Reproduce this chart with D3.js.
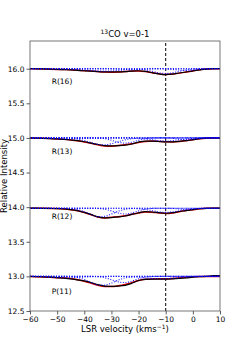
<!DOCTYPE html>
<html>
<head>
<meta charset="utf-8">
<script src="https://cdn.jsdelivr.net/npm/d3@7"></script>
<style>
    body { margin: 0; background: #fff; }
    svg text { font-family: "DejaVu Sans", sans-serif; fill: #000; }
</style>
</head>
<body>
<div id="chart"></div>
<script>
//---------------------------------//
// Data                            //
//---------------------------------//

var velocity = [-60, -57.5, -55, -52.5, -50, -47.5, -45, -42.5, -40, -37.5, -35, -32.5, -30, -27.5,
                -25, -22.5, -20, -17.5, -15, -12.5, -10, -7.5, -5, -2.5, 0, 2.5, 5, 7.5, 10];

var lineNames = ['R(16)', 'R(13)', 'R(12)', 'P(11)'];
var baselines = [16.0, 15.0, 13.985, 13.0];
var labelV    = [-52, -52, -52, -52];
var labelY    = [15.81, 14.81, 13.86, 12.79];

// absorption depth below baseline (observed, black)
var obsR16 = [0,0.002,0.004,0.007,0.01,0.014,0.018,0.024,0.03,0.036,0.041,0.045,0.047,0.046,0.042,0.034,0.03,0.04,0.058,0.075,0.085,0.078,0.062,0.048,0.032,0.016,0.005,0,0];
var obsR13 = [0,0.003,0.006,0.01,0.015,0.022,0.03,0.04,0.055,0.075,0.095,0.11,0.115,0.112,0.105,0.088,0.06,0.045,0.045,0.052,0.058,0.056,0.05,0.04,0.025,0.01,0.003,0,0];
var obsR12 = [0,0,0.002,0.004,0.006,0.01,0.02,0.035,0.06,0.09,0.125,0.14,0.135,0.126,0.113,0.09,0.066,0.05,0.055,0.065,0.073,0.065,0.048,0.035,0.02,0.008,0.002,0,0];
var obsP11 = [0,0.003,0.007,0.012,0.018,0.026,0.036,0.05,0.065,0.088,0.118,0.14,0.145,0.14,0.13,0.1,0.06,0.042,0.04,0.04,0.04,0.036,0.03,0.022,0.012,0.005,0,-0.012,-0.01];

// model fit (red)
var modR16 = [0,0.002,0.004,0.007,0.01,0.013,0.017,0.022,0.028,0.035,0.042,0.048,0.05,0.047,0.04,0.035,0.034,0.042,0.058,0.074,0.083,0.078,0.064,0.048,0.032,0.016,0.005,0.001,0];
var modR13 = [0,0.003,0.006,0.01,0.015,0.021,0.03,0.042,0.058,0.078,0.1,0.116,0.12,0.11,0.1,0.085,0.065,0.05,0.046,0.05,0.056,0.058,0.052,0.04,0.026,0.011,0.003,0,0];
var modR12 = [0,0,0.002,0.004,0.006,0.011,0.022,0.038,0.062,0.094,0.128,0.142,0.132,0.122,0.11,0.088,0.068,0.055,0.058,0.068,0.076,0.068,0.05,0.035,0.022,0.009,0.002,0,0];
var modP11 = [0.002,0.004,0.008,0.013,0.018,0.022,0.03,0.048,0.07,0.098,0.128,0.146,0.146,0.136,0.118,0.09,0.06,0.042,0.036,0.035,0.034,0.03,0.022,0.012,0.006,0.002,0,0,0];

// velocity components (blue dotted)
var compR16 = [
    [0,0,0,0,0,0.002,0.005,0.01,0.017,0.025,0.032,0.035,0.032,0.025,0.017,0.01,0.005,0.002,0,0,0,0,0,0,0,0,0,0,0],
    [0,0,0,0,0,0,0,0,0,0,0,0,0.002,0.007,0.012,0.015,0.012,0.007,0.002,0,0,0,0,0,0,0,0,0,0],
    [0,0,0,0,0,0,0,0,0,0,0,0,0,0,0,0,0.006,0.018,0.038,0.06,0.07,0.06,0.038,0.018,0.006,0,0,0,0],
    [0,0,0,0,0,0,0,0,0,0,0,0,0,0,0,0,0,0,0,0,0.004,0.011,0.02,0.025,0.02,0.011,0.004,0,0]
];
var compR13 = [
    [0,0,0,0,0,0,0.006,0.016,0.038,0.067,0.092,0.1,0.084,0.055,0.028,0.011,0.003,0,0,0,0,0,0,0,0,0,0,0,0],
    [0,0,0,0,0,0,0,0,0,0,0.003,0.011,0.035,0.062,0.075,0.062,0.035,0.011,0.003,0,0,0,0,0,0,0,0,0,0],
    [0,0,0,0,0,0,0,0,0,0,0,0,0,0,0,0,0.006,0.015,0.027,0.039,0.045,0.039,0.027,0.015,0.006,0,0,0,0],
    [0,0,0,0,0,0,0,0,0,0,0,0,0,0,0,0,0,0,0,0,0,0.007,0.017,0.025,0.02,0.009,0.002,0,0],
    [0,0.003,0.006,0.01,0.013,0.015,0.014,0.011,0.007,0.004,0.002,0,0,0,0,0,0,0,0,0,0,0,0,0,0,0,0,0,0]
];
var compR12 = [
    [0,0,0,0,0,0,0.006,0.021,0.051,0.092,0.122,0.118,0.084,0.044,0.017,0.005,0,0,0,0,0,0,0,0,0,0,0,0,0],
    [0,0,0,0,0,0,0,0,0,0,0.004,0.015,0.039,0.07,0.085,0.07,0.039,0.015,0.004,0,0,0,0,0,0,0,0,0,0],
    [0,0,0,0,0,0,0,0,0,0,0,0,0,0,0,0.003,0.008,0.019,0.036,0.053,0.06,0.053,0.036,0.019,0.008,0.003,0,0,0],
    [0,0,0,0,0,0,0,0,0,0,0,0,0,0,0,0,0,0,0,0,0,0.004,0.012,0.02,0.016,0.006,0.001,0,0]
];
var compP11 = [
    [0,0,0,0,0,0,0.005,0.018,0.046,0.088,0.123,0.127,0.096,0.053,0.022,0.007,0,0,0,0,0,0,0,0,0,0,0,0,0],
    [0,0,0,0,0,0,0,0,0,0,0.005,0.019,0.048,0.079,0.089,0.068,0.035,0.012,0.003,0,0,0,0,0,0,0,0,0,0],
    [0,0,0,0,0,0,0,0,0,0,0,0,0,0,0.003,0.008,0.014,0.023,0.031,0.035,0.033,0.026,0.018,0.01,0.005,0.002,0,0,0],
    [0.002,0.004,0.008,0.013,0.018,0.02,0.019,0.015,0.01,0.006,0.003,0.001,0,0,0,0,0,0,0,0,0,0,0,0,0,0,0,0,0]
];

var observed   = [obsR16, obsR13, obsR12, obsP11];
var models     = [modR16, modR13, modR12, modP11];
var components = [compR16, compR13, compR12, compP11];

var xTicks = [-60, -50, -40, -30, -20, -10, 0, 10];
var yTicks = [12.5, 13.0, 13.5, 14.0, 14.5, 15.0, 15.5, 16.0];
var markV  = -10;        // dashed reference velocity

//---------------------------------//
// Chart                           //
//---------------------------------//

window.Vis = window.Vis || {};

Vis.init = function() {
    Vis.width = 245;
    Vis.height = 350;
    Vis.m = {left: 30, right: 25, top: 41, bottom: 39};

    Vis.svg = d3.select('#chart').append('svg')
                .attr('width', Vis.width)
                .attr('height', Vis.height);

    Vis.x = d3.scaleLinear().domain([-60, 10]).range([Vis.m.left, Vis.width - Vis.m.right]);
    Vis.y = d3.scaleLinear().domain([12.5, 16.4]).range([Vis.height - Vis.m.bottom, Vis.m.top]);

    Vis.drawSpectra();
    Vis.drawAxes();
};

Vis.spectrumLine = function(base, depths) {
    return d3.line()
             .x(function(d, i) { return Vis.x(velocity[i]); })
             .y(function(d) { return Vis.y(base - d); })
             .curve(d3.curveMonotoneX)(depths);
};

Vis.drawSpectra = function() {
    var g = Vis.svg.append('g');

    // reference velocity
    g.append('line')
     .attr('x1', Vis.x(markV)).attr('x2', Vis.x(markV))
     .attr('y1', Vis.y(12.5)).attr('y2', Vis.y(16.4))
     .attr('stroke', '#000').attr('stroke-width', 1)
     .attr('stroke-dasharray', '3,2');

    for (var k = 0; k < lineNames.length; k++) {
        var base = baselines[k];

        g.append('path')                                    //model fit
         .attr('d', Vis.spectrumLine(base, models[k]))
         .attr('fill', 'none').attr('stroke', '#e00000').attr('stroke-width', 1.5);

        g.append('path')                                    //observed
         .attr('d', Vis.spectrumLine(base, observed[k]))
         .attr('fill', 'none').attr('stroke', '#000').attr('stroke-width', 1.2);

        components[k].forEach(function(c) {                 //components
            g.append('path')
             .attr('d', Vis.spectrumLine(base, c))
             .attr('fill', 'none').attr('stroke', '#0000ff').attr('stroke-width', 1.1)
             .attr('stroke-dasharray', '1,1.6').attr('opacity', 0.9);
        });

        g.append('text')
         .attr('x', Vis.x(labelV[k])).attr('y', Vis.y(labelY[k]))
         .attr('dy', '0.35em')
         .attr('font-size', 7.5)
         .text(lineNames[k]);
    }
};

Vis.drawAxes = function() {
    var fmt = function(d) { return d < 0 ? '\u2212' + Math.abs(d) : d; };

    var xAxis = Vis.svg.append('g')
        .attr('transform', 'translate(0,' + (Vis.height - Vis.m.bottom) + ')')
        .call(d3.axisBottom(Vis.x).tickValues(xTicks).tickFormat(fmt).tickSizeOuter(0).tickSize(3.5).tickPadding(2));

    var yAxis = Vis.svg.append('g')
        .attr('transform', 'translate(' + Vis.m.left + ',0)')
        .call(d3.axisLeft(Vis.y).tickValues(yTicks).tickFormat(d3.format('.1f')).tickSizeOuter(0).tickSize(3.5).tickPadding(2));

    [xAxis, yAxis].forEach(function(a) {
        a.select('.domain').remove();
        a.selectAll('text').attr('font-family', '"DejaVu Sans", sans-serif').attr('font-size', 7.5).attr('fill', '#000');
        a.selectAll('line').attr('stroke', '#333').attr('stroke-width', 0.8);
    });

    Vis.svg.append('rect')                                  //frame
       .attr('x', Vis.m.left).attr('y', Vis.m.top)
       .attr('width', Vis.width - Vis.m.left - Vis.m.right)
       .attr('height', Vis.height - Vis.m.top - Vis.m.bottom)
       .attr('fill', 'none').attr('stroke', '#555').attr('stroke-width', 0.8);

    var title = Vis.svg.append('text')
        .attr('x', (Vis.m.left + Vis.width - Vis.m.right) / 2).attr('y', 37)
        .attr('text-anchor', 'middle').attr('font-size', 8.5);
    title.append('tspan').attr('font-size', 6).attr('dy', -3).text('13');
    title.append('tspan').attr('dy', 3).text('CO v=0-1');

    var xl = Vis.svg.append('text')
        .attr('x', (Vis.m.left + Vis.width - Vis.m.right) / 2).attr('y', 332)
        .attr('text-anchor', 'middle').attr('font-size', 8.5);
    xl.append('tspan').text('LSR velocity (kms');
    xl.append('tspan').attr('font-size', 6).attr('dy', -3).text('\u22121');
    xl.append('tspan').attr('dy', 3).text(')');

    Vis.svg.append('text')
       .attr('transform', 'translate(6.5,' + (Vis.m.top + Vis.height - Vis.m.bottom) / 2 + ') rotate(-90)')
       .attr('text-anchor', 'middle').attr('font-size', 8.5)
       .text('Relative Intensity');
};

document.addEventListener('DOMContentLoaded', Vis.init);
</script>
</body>
</html>
